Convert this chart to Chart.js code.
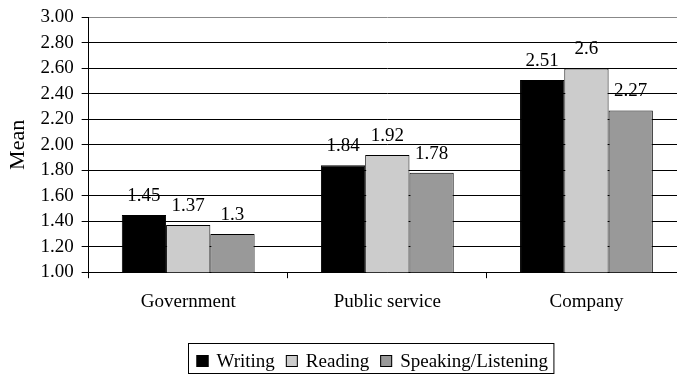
<!DOCTYPE html>
<html><head><meta charset="utf-8">
<script src="https://cdn.jsdelivr.net/npm/chart.js@4"></script>
<style>
html,body{margin:0;padding:0;background:#fff;overflow:hidden;width:677px;height:375px}
#wrap{position:relative;width:686px;height:375px}
</style>
</head><body><div id="wrap"><canvas id="c" width="686" height="375"></canvas></div>
<script>
const categories = ['Government', 'Public service', 'Company'];
const seriesNames = ['Writing', 'Reading', 'Speaking/Listening'];
const writing = [1.45, 1.84, 2.51];
const reading = [1.37, 1.92, 2.6];
const speaking = [1.3, 1.78, 2.27];
const yMin = 1, yMax = 3, yStep = 0.2;
const axisTitle = 'Mean';

const FONT = '"Liberation Serif", "Times New Roman", serif';
const fills = ['#000000', '#cccccc', '#999999'];
const seriesValues = [writing, reading, speaking];

const dataLabels = {
  id: 'dataLabels',
  afterDatasetsDraw(chart) {
    const ctx = chart.ctx;
    ctx.save();
    ctx.font = '19px ' + FONT;
    ctx.fillStyle = '#000';
    ctx.textAlign = 'center';
    ctx.textBaseline = 'alphabetic';
    chart.data.datasets.forEach((ds, i) => {
      chart.getDatasetMeta(i).data.forEach((bar, j) => {
        ctx.fillText(String(ds.data[j]), bar.x, bar.y - 14);
      });
    });
    ctx.restore();
  }
};

const boxLegend = {
  id: 'boxLegend',
  afterDraw(chart) {
    const ctx = chart.ctx;
    ctx.save();
    ctx.font = '19px ' + FONT;
    const box = 12, gap = 8, space = 11, padL = 8, padR = 6;
    const items = chart.data.datasets.map(ds => ({label: ds.label, color: ds.backgroundColor, w: ctx.measureText(ds.label).width}));
    let total = padL + padR;
    items.forEach((it, k) => { total += box + gap + it.w + (k < items.length - 1 ? space : 0); });
    const cx = 371;
    const left = Math.round(cx - total / 2) + 0.5;
    const top = 343.5, bottom = 373.5;
    ctx.strokeStyle = '#000';
    ctx.lineWidth = 1;
    ctx.strokeRect(left, top, total, bottom - top);
    let x = left + padL;
    items.forEach(it => {
      ctx.fillStyle = it.color;
      ctx.fillRect(x, 355, box, box);
      ctx.strokeRect(x + 0.5, 355.5, box - 1, box - 1);
      x += box + gap;
      ctx.fillStyle = '#000';
      ctx.textBaseline = 'alphabetic';
      ctx.fillText(it.label, x, 367);
      x += it.w + space;
    });
    ctx.restore();
  }
};

new Chart(document.getElementById('c'), {
  type: 'bar',
  data: {
    labels: categories,
    datasets: seriesNames.map((name, i) => ({
      label: name,
      data: seriesValues[i],
      backgroundColor: fills[i],
      borderColor: '#000',
      borderWidth: 1,
      barPercentage: 1,
      categoryPercentage: 0.667
    }))
  },
  options: {
    responsive: false,
    animation: false,
    layout: {padding: {top: 4, left: 0, right: 0, bottom: 50}},
    plugins: {legend: {display: false}, tooltip: {enabled: false}},
    scales: {
      x: {
        offset: true,
        grid: {display: true, drawOnChartArea: false, color: '#000', tickLength: 6, offset: true},
        border: {color: '#000', width: 1},
        ticks: {color: '#000', font: {family: FONT, size: 19}, padding: 12}
      },
      y: {
        min: yMin, max: yMax,
        ticks: {stepSize: yStep, autoSkip: false, color: '#000', font: {family: FONT, size: 19, lineHeight: 1}, padding: 8,
          callback: v => Number(v).toFixed(2)},
        grid: {color: c => (c.tick && Math.abs(c.tick.value - yMax) < 1e-9) ? '#888' : '#000', tickColor: '#000', tickLength: 7, lineWidth: 1},
        border: {color: '#000', width: 1},
        title: {display: true, text: axisTitle, color: '#000', font: {family: FONT, size: 22}, padding: {top: 5, bottom: 1}}
      }
    }
  },
  plugins: [dataLabels, boxLegend]
});
</script>
</body></html>
